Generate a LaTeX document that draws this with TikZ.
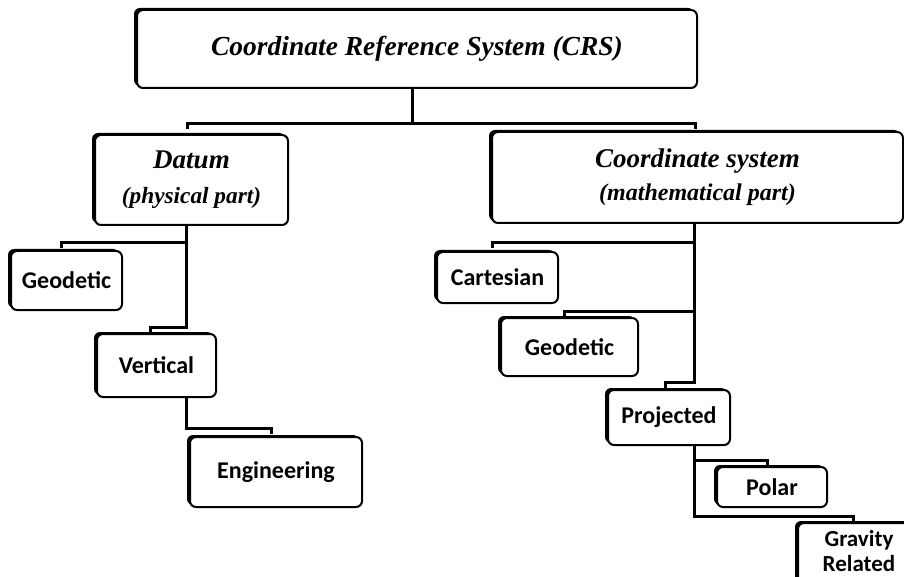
\documentclass[tikz,border=0pt]{standalone}
\usepackage{fontspec}
\setmainfont{Liberation Serif}
\newfontfamily\carlfont{Carlito}
\usetikzlibrary{shadows}
\tikzset{
  box/.style={draw=black, line width=2pt, rounded corners=6pt, fill=white, inner sep=0pt,
    general shadow={fill=black, shadow xshift=-3pt, shadow yshift=2pt}},
  serifbox/.style={box, font=\fontsize{27.5}{32}\selectfont\bfseries\itshape, align=center},
  sansbox/.style={box, font=\fontsize{24}{29}\selectfont\carlfont\bfseries, align=center},
  conn/.style={draw=black, line width=3pt, line cap=rect, line join=miter},
}
\begin{document}
\begin{tikzpicture}[x=1pt,y=-1pt]
\useasboundingbox (0,0) rectangle (904,577);
\clip (0,0) rectangle (904,577);
% boxes
\node[serifbox, minimum width=560pt, minimum height=78pt] (crs) at (417,49) {Coordinate Reference System (CRS)};
\node[serifbox, minimum width=193pt, minimum height=90pt, font=\fontsize{23.3}{36}\selectfont\bfseries\itshape] (datum) at (191.5,180)
  {{\fontsize{27}{30}\selectfont Datum}\\[-1pt](physical part)};
\node[serifbox, minimum width=411pt, minimum height=91pt, font=\fontsize{24}{36}\selectfont\bfseries\itshape] (csys) at (697.5,177.5)
  {{\fontsize{27}{30}\selectfont Coordinate system}\\[-3pt](mathematical part)};
\node[sansbox, minimum width=111pt, minimum height=59pt] (geo1) at (66.5,280.5) {Geodetic};
\node[sansbox, minimum width=119pt, minimum height=63pt] (vert) at (156.5,365.5) {Vertical};
\node[sansbox, minimum width=172pt, minimum height=70pt] (eng) at (276,472) {Engineering};
\node[sansbox, minimum width=121pt, minimum height=51pt] (cart) at (497.5,277.5) {Cartesian};
\node[sansbox, minimum width=137pt, minimum height=58pt] (geo2) at (569.5,347) {Geodetic};
\node[sansbox, minimum width=122pt, minimum height=55pt] (proj) at (669,417.5) {Projected};
\node[sansbox, minimum width=110pt, minimum height=40pt] (polar) at (772,487) {Polar};
\node[sansbox, minimum width=124pt, minimum height=66pt] (grav) at (860,556) {};
\node[font=\fontsize{23}{25}\selectfont\carlfont\bfseries, align=center, inner sep=0pt] (gravtxt) at (859,551) {Gravity\\Related};
% joints
\coordinate (j0) at (412,124);
\coordinate (d0) at (186,327);
\coordinate (c0) at (694,382);
\coordinate (v0) at (186,428);
\coordinate (p0) at (694,516);
\coordinate (tdatum) at (187,128);
\coordinate (tcsys) at (695,128);
\coordinate (tgeo1) at (61,247);
\coordinate (tvert) at (150,331);
\coordinate (tcart) at (492,247);
\coordinate (tgeo2) at (564,315);
\coordinate (tproj) at (665,386);
\coordinate (teng) at (271,432);
\coordinate (tpolar) at (767,464);
\coordinate (tgrav) at (853,520);
% connectors
\draw[conn] ([xshift=-5pt]crs.south) -- (j0) -| (tdatum);
\draw[conn] (j0) -| (tcsys);
\draw[conn] ([xshift=-5.5pt]datum.south) -- (d0);
\draw[conn] (tgeo1) -- ++(0,-4) -- (d0 |- 0,243);
\draw[conn] (tvert) -- ++(0,-4) -- (d0);
\draw[conn] ([xshift=-3.5pt]csys.south) -- (c0);
\draw[conn] (tcart) -- ++(0,-4) -- (c0 |- 0,243);
\draw[conn] (tgeo2) -- ++(0,-4) -- (c0 |- 0,311);
\draw[conn] (tproj) -- ++(0,-4) -- (c0);
\draw[conn] ([xshift=29.5pt]vert.south) -- (v0) -| (teng);
\draw[conn] ([xshift=25pt]proj.south) -- (p0) -| (tgrav);
\draw[conn] (p0 |- 0,460) -| (tpolar);
\end{tikzpicture}
\end{document}
